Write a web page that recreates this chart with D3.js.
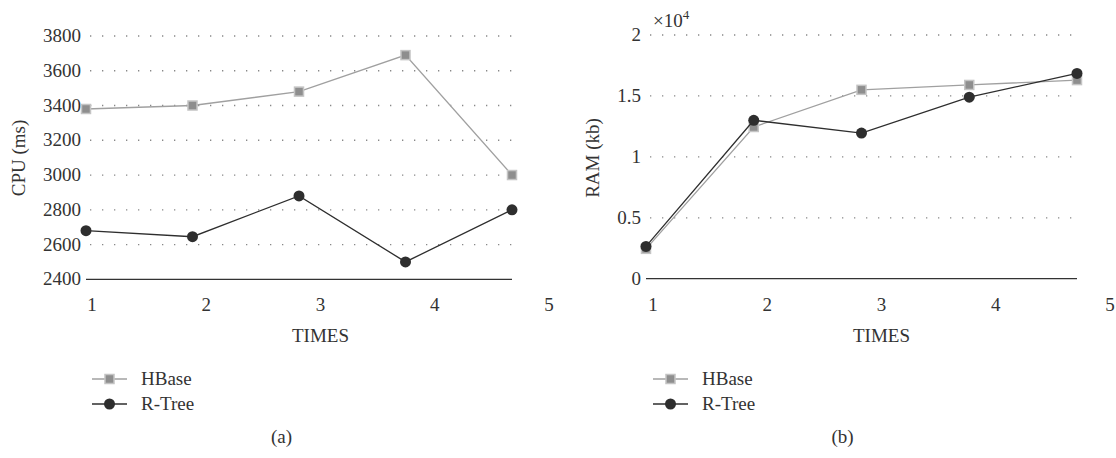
<!DOCTYPE html>
<html>
<head>
<meta charset="utf-8">
<script src="https://cdn.jsdelivr.net/npm/d3@7"></script>
<style>
  body { margin: 0; background: #fff; }
  svg text { font-family: "Liberation Serif", "DejaVu Serif", serif; fill: #333; }
</style>
</head>
<body>
<svg id="chart" width="1116" height="458"></svg>
<script>
// data
const times = [1, 2, 3, 4, 5];
const cpuHBase = [3380, 3400, 3480, 3690, 3000];
const cpuRTree = [2680, 2645, 2880, 2500, 2800];
const ramHBase = [2450, 12450, 15500, 15900, 16300];
const ramRTree = [2650, 13000, 11950, 14900, 16850];
const cpuTicks = [2400, 2600, 2800, 3000, 3200, 3400, 3600, 3800];
const ramTicks = [0, 5000, 10000, 15000, 20000];
const ramTickLabels = ["0", "0.5", "1", "1.5", "2"];

const svg = d3.select("#chart");
const fs = "19px";

const hbaseStyle = { line: "#a0a0a0", fill: "#8e8e8e", stroke: "#c4c4c4" };
const rtreeStyle = { line: "#2e2e2e", fill: "#2e2e2e", stroke: "#2e2e2e" };

function drawPanel(opt) {
  const g = svg.append("g");
  const x = d3.scaleLinear().domain([1, 5]).range(opt.xRange);
  // the tick labels in the figure sit on a slightly wider spacing than the points
  const xLab = d3.scaleLinear().domain([1, 5]).range(opt.labRange);
  const y = d3.scaleLinear().domain(opt.yDomain).range(opt.yRange);

  // dotted grid
  g.selectAll(".grid")
    .data(opt.yTicks.slice(1))
    .enter()
    .append("line")
    .attr("x1", opt.xRange[0] + 4)
    .attr("x2", opt.xRange[1])
    .attr("y1", (d) => y(d))
    .attr("y2", (d) => y(d))
    .attr("stroke", "#888")
    .attr("stroke-width", 1.3)
    .attr("stroke-dasharray", "1.3,10.7");

  // bottom axis line
  g.append("line")
    .attr("x1", opt.xRange[0])
    .attr("x2", opt.xRange[1])
    .attr("y1", y(opt.yDomain[0]))
    .attr("y2", y(opt.yDomain[0]))
    .attr("stroke", "#333")
    .attr("stroke-width", 1.3);

  // y tick labels
  g.selectAll(".ylab")
    .data(opt.yTicks)
    .enter()
    .append("text")
    .attr("x", opt.xRange[0] - 5)
    .attr("y", (d) => y(d) + 6)
    .attr("text-anchor", "end")
    .style("font-size", fs)
    .text((d, i) => opt.yLabels[i]);

  // x tick labels
  g.selectAll(".xlab")
    .data(times)
    .enter()
    .append("text")
    .attr("x", (d) => xLab(d))
    .attr("y", 311)
    .attr("text-anchor", "middle")
    .style("font-size", fs)
    .text((d) => d);

  g.append("text")
    .attr("x", (opt.labRange[0] + opt.labRange[1]) / 2)
    .attr("y", 342)
    .attr("text-anchor", "middle")
    .style("font-size", fs)
    .text("TIMES");

  g.append("text")
    .attr("transform", `translate(${opt.titleX}, 158) rotate(-90)`)
    .attr("text-anchor", "middle")
    .style("font-size", fs)
    .text(opt.yTitle);

  g.append("text")
    .attr("x", (opt.labRange[0] + opt.labRange[1]) / 2 - 39)
    .attr("y", 443)
    .attr("text-anchor", "middle")
    .style("font-size", fs)
    .text(opt.caption);

  const line = d3.line()
    .x((d, i) => x(times[i]))
    .y((d) => y(d));

  // HBase series
  g.append("path")
    .attr("d", line(opt.hbase))
    .attr("fill", "none")
    .attr("stroke", hbaseStyle.line)
    .attr("stroke-width", 1.3);
  g.selectAll(".sq")
    .data(opt.hbase)
    .enter()
    .append("rect")
    .attr("x", (d, i) => x(times[i]) - 4.5)
    .attr("y", (d) => y(d) - 4.5)
    .attr("width", 9)
    .attr("height", 9)
    .attr("fill", hbaseStyle.fill)
    .attr("stroke", hbaseStyle.stroke)
    .attr("stroke-width", 1.5);

  // R-Tree series
  g.append("path")
    .attr("d", line(opt.rtree))
    .attr("fill", "none")
    .attr("stroke", rtreeStyle.line)
    .attr("stroke-width", 1.3);
  g.selectAll(".dot")
    .data(opt.rtree)
    .enter()
    .append("circle")
    .attr("cx", (d, i) => x(times[i]))
    .attr("cy", (d) => y(d))
    .attr("r", 5.5)
    .attr("fill", rtreeStyle.fill);

  // legend
  const lx = opt.legendX;
  const items = [
    { name: "HBase", s: hbaseStyle, y: 379, shape: "sq" },
    { name: "R-Tree", s: rtreeStyle, y: 404, shape: "dot" },
  ];
  items.forEach((it) => {
    g.append("line")
      .attr("x1", lx).attr("x2", lx + 35)
      .attr("y1", it.y).attr("y2", it.y)
      .attr("stroke", it.s.line)
      .attr("stroke-width", 1.3);
    if (it.shape === "sq") {
      g.append("rect")
        .attr("x", lx + 17.5 - 4.5).attr("y", it.y - 4.5)
        .attr("width", 9).attr("height", 9)
        .attr("fill", it.s.fill)
        .attr("stroke", it.s.stroke)
        .attr("stroke-width", 1.5);
    } else {
      g.append("circle")
        .attr("cx", lx + 17.5).attr("cy", it.y)
        .attr("r", 5.5)
        .attr("fill", it.s.fill);
    }
    g.append("text")
      .attr("x", lx + 49)
      .attr("y", it.y + 6)
      .style("font-size", fs)
      .text(it.name);
  });

  return { g, y };
}

drawPanel({
  xRange: [86, 512],
  labRange: [92, 549],
  yDomain: [2400, 3800],
  yRange: [279.3, 36],
  yTicks: cpuTicks,
  yLabels: cpuTicks.map(String),
  yTitle: "CPU (ms)",
  titleX: 25,
  legendX: 92,
  caption: "(a)",
  hbase: cpuHBase,
  rtree: cpuRTree,
});

const pb = drawPanel({
  xRange: [646, 1077],
  labRange: [653, 1110],
  yDomain: [0, 20000],
  yRange: [278.7, 35],
  yTicks: ramTicks,
  yLabels: ramTickLabels,
  yTitle: "RAM (kb)",
  titleX: 599,
  legendX: 653,
  caption: "(b)",
  hbase: ramHBase,
  rtree: ramRTree,
});

// exponent label
const ex = pb.g.append("text")
  .attr("x", 653)
  .attr("y", 27)
  .style("font-size", fs);
ex.append("tspan").text("×10");
ex.append("tspan").attr("dy", -8).style("font-size", "13px").text("4");
</script>
</body>
</html>
